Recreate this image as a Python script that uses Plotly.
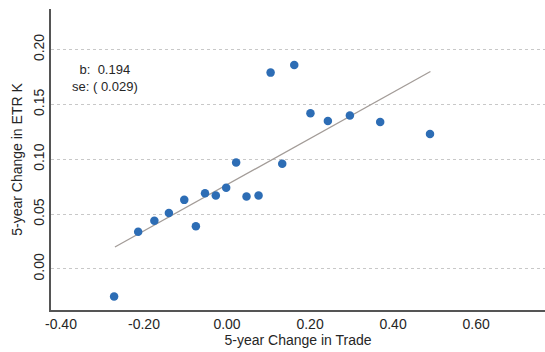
import plotly.graph_objects as go

trade = [-0.272, -0.214, -0.175, -0.140, -0.103, -0.075, -0.053, -0.027, -0.002, 0.022,
         0.047, 0.076, 0.105, 0.133, 0.162, 0.201, 0.243, 0.296, 0.369, 0.489]
etr = [-0.025, 0.034, 0.044, 0.051, 0.063, 0.039, 0.069, 0.067, 0.074, 0.097,
       0.066, 0.067, 0.179, 0.096, 0.186, 0.142, 0.135, 0.140, 0.134, 0.123]
fit_x = [-0.27, 0.49]
fit_y = [0.020, 0.180]
x_ticks = [-0.4, -0.2, 0.0, 0.2, 0.4, 0.6]
y_ticks = [0.0, 0.05, 0.10, 0.15, 0.20]
annot = "b:  0.194<br>se: ( 0.029)"

fig = go.Figure()
fig.add_trace(go.Scatter(x=fit_x, y=fit_y, mode="lines",
                         line=dict(color="#a39c98", width=1.3), showlegend=False))
fig.add_trace(go.Scatter(x=trade, y=etr, mode="markers",
                         marker=dict(color="#2d6db5", size=8.5), showlegend=False))

font_family = "Liberation Sans, Arial, sans-serif"
fig.update_layout(
    width=545, height=352,
    margin=dict(l=51, r=0, t=9, b=42),
    paper_bgcolor="white", plot_bgcolor="white",
    font=dict(family=font_family, size=14, color="#262626"),
    xaxis=dict(range=[-0.424, 0.766], tickvals=x_ticks,
               ticktext=[f"{v:.2f}" for v in x_ticks],
               showgrid=False, zeroline=False, showline=True,
               linecolor="#555555", linewidth=1.5,
               ticks="", tickfont=dict(size=14),
               title=dict(text="5-year Change in Trade", font=dict(size=14), standoff=5)),
    yaxis=dict(range=[-0.0374, 0.237], tickvals=y_ticks,
               ticktext=[f"{v:.2f}" for v in y_ticks],
               tickangle=-90,
               showgrid=True, gridcolor="#c8c8c8", griddash="dot", gridwidth=1,
               zeroline=False, showline=True,
               linecolor="#555555", linewidth=1.5,
               ticks="", tickfont=dict(size=14),
               title=dict(text="5-year Change in ETR K", font=dict(size=14), standoff=5)),
)
fig.add_annotation(x=-0.295, y=0.174, xref="x", yref="y", text=annot,
                   showarrow=False, font=dict(size=13, color="#262626"),
                   align="center")

fig.write_html("out.html")
